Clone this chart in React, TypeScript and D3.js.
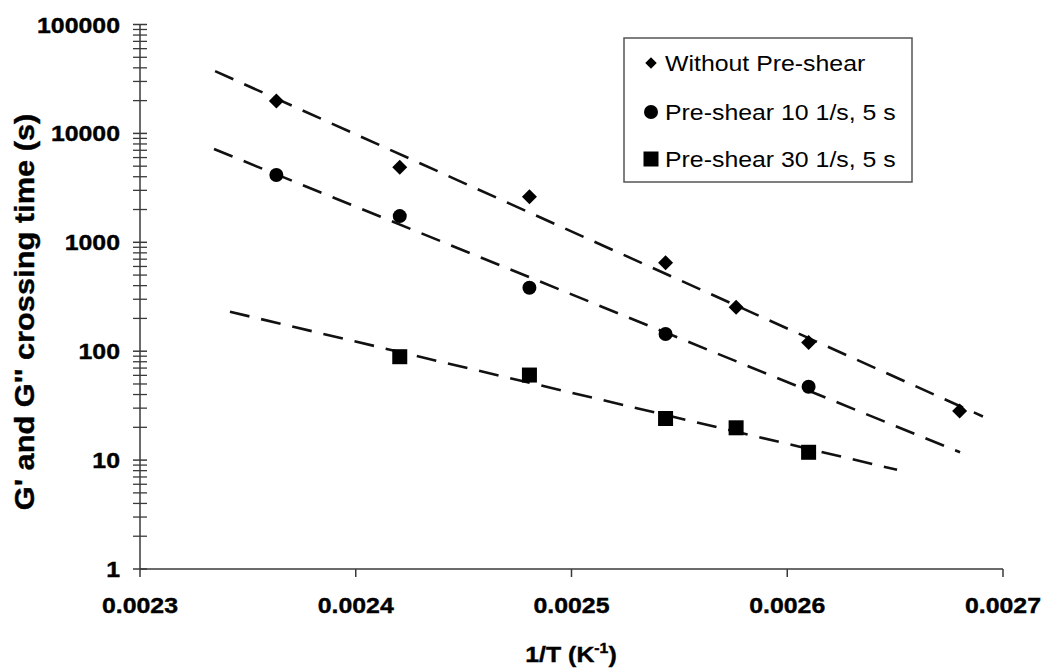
import React from "react";
import * as d3 from "d3";

// ---- data ----
const xTicks = [0.0023, 0.0024, 0.0025, 0.0026, 0.0027];
const xTickLabels = ["0.0023", "0.0024", "0.0025", "0.0026", "0.0027"];
const yTicks = [1, 10, 100, 1000, 10000, 100000];
const yTickLabels = ["1", "10", "100", "1000", "10000", "100000"];

const seriesNames = ["Without Pre-shear", "Pre-shear 10 1/s, 5 s", "Pre-shear 30 1/s, 5 s"];
const seriesSymbols = ["diamond", "circle", "square"];

const noPreshearX = [0.0023632, 0.0024204, 0.0024805, 0.0025436, 0.0025763, 0.0026099, 0.0026799];
const noPreshearY = [19800, 4900, 2620, 650, 253, 120, 28.2];

const preshear10X = [0.0023632, 0.0024204, 0.0024805, 0.0025436, 0.0026099];
const preshear10Y = [4150, 1740, 383, 144, 47.2];

const preshear30X = [0.0024204, 0.0024805, 0.0025436, 0.0025763, 0.0026099];
const preshear30Y = [89, 60.4, 24.1, 19.8, 11.8];

// trend line x-extents (as drawn in the reference)
const trendStart = [0.0023348, 0.0023343, 0.0023417];
const trendEnd = [0.0026907, 0.0026801, 0.0026509];

const seriesX = [noPreshearX, preshear10X, preshear30X];
const seriesY = [noPreshearY, preshear10Y, preshear30Y];

// ---- layout ----
const W = 1046;
const H = 671;
const X0 = 140;
const X1 = 1003;
const Y0 = 569;
const Y1 = 24.5;
const FONT = "'Liberation Sans', Arial, Helvetica, sans-serif";
const SX = 1.13;
const AXIS = "#3a3a3a";

const x = d3.scaleLinear().domain([0.0023, 0.0027]).range([X0, X1]);
const y = d3.scaleLog().domain([1, 100000]).range([Y0, Y1]);

function fit(xs: number[], ys: number[]) {
  const ly = ys.map((v) => Math.log10(v));
  const mx = d3.mean(xs) as number;
  const my = d3.mean(ly) as number;
  let sxy = 0;
  let sxx = 0;
  xs.forEach((xv, i) => {
    sxy += (xv - mx) * (ly[i] - my);
    sxx += (xv - mx) * (xv - mx);
  });
  const b = sxy / sxx;
  const a = my - b * mx;
  return (xv: number) => Math.pow(10, a + b * xv);
}

function Marker({ kind, cx, cy, s }: { kind: string; cx: number; cy: number; s: number }) {
  if (kind === "diamond") {
    const h = s / 2;
    return <path d={`M${cx},${cy - h}L${cx + h},${cy}L${cx},${cy + h}L${cx - h},${cy}Z`} fill="#000" />;
  }
  if (kind === "circle") return <circle cx={cx} cy={cy} r={s / 2} fill="#000" />;
  return <rect x={cx - s / 2} y={cy - s / 2} width={s} height={s} fill="#000" />;
}

function Txt({
  x: tx,
  y: ty,
  anchor = "start",
  size,
  weight = "normal",
  rotate = 0,
  sx = SX,
  children,
}: any) {
  const bold = weight === "bold";
  return (
    <text
      transform={`translate(${tx},${ty}) rotate(${rotate}) scale(${sx},1)`}
      textAnchor={anchor}
      fontSize={size}
      fontWeight={weight}
      fontFamily={FONT}
      fill="#000"
      stroke={bold ? "#000" : "none"}
      strokeWidth={bold ? 0.4 : 0}
    >
      {children}
    </text>
  );
}

export default function App() {
  const line = d3
    .line<[number, number]>()
    .x((d) => x(d[0]))
    .y((d) => y(d[1]));

  const minor: number[] = [];
  for (let e = 0; e < 5; e++) {
    for (let m = 2; m <= 9; m++) minor.push(m * Math.pow(10, e));
  }

  const markerSizes = [15, 14, 15];
  const legendRows = [63, 112, 159];
  const legendMarkerSizes = [11.5, 14, 15];

  return (
    <svg
      width={W}
      height={H}
      style={{ position: "absolute", left: 0, top: 0, background: "#fff" }}
    >
      <rect x={0} y={0} width={W} height={H} fill="#fff" />

      {/* trend lines */}
      {seriesX.map((xs, i) => {
        const f = fit(xs, seriesY[i]);
        const pts: [number, number][] = [
          [trendStart[i], f(trendStart[i])],
          [trendEnd[i], f(trendEnd[i])],
        ];
        return (
          <path
            key={"t" + i}
            d={line(pts) as string}
            fill="none"
            stroke="#111"
            strokeWidth={2.6}
            strokeDasharray="20,12"
          />
        );
      })}

      {/* axes */}
      <line x1={X0} x2={X0} y1={Y1} y2={Y0} stroke={AXIS} strokeWidth={1.5} />
      <line x1={X0} x2={X1} y1={Y0} y2={Y0} stroke={AXIS} strokeWidth={1.5} />
      {yTicks.map((t) => (
        <line key={"ym" + t} x1={X0 - 7} x2={X0 + 7} y1={y(t)} y2={y(t)} stroke={AXIS} strokeWidth={1.5} />
      ))}
      {minor.map((t) => (
        <line key={"yn" + t} x1={X0 - 7} x2={X0 + 7} y1={y(t)} y2={y(t)} stroke={AXIS} strokeWidth={1.3} />
      ))}
      {xTicks.map((t) => (
        <line key={"xt" + t} x1={x(t)} x2={x(t)} y1={Y0} y2={Y0 + 8} stroke={AXIS} strokeWidth={1.5} />
      ))}

      {/* tick labels */}
      {yTicks.map((t, i) => (
        <Txt key={"yl" + t} x={120} y={y(t) + 8} anchor="end" size={22} weight="bold">
          {yTickLabels[i]}
        </Txt>
      ))}
      {xTicks.map((t, i) => (
        <Txt key={"xl" + t} x={x(t)} y={613} anchor="middle" size={22} weight="bold">
          {xTickLabels[i]}
        </Txt>
      ))}

      {/* axis titles */}
      <Txt x={571} y={662} anchor="middle" size={22} weight="bold">
        1/T (K<tspan dy={-9} fontSize={14}>-1</tspan>
        <tspan dy={9}>)</tspan>
      </Txt>
      <Txt x={34} y={312} anchor="middle" size={28} weight="bold" rotate={-90} sx={1.1}>
        G' and G'' crossing time (s)
      </Txt>

      {/* markers */}
      {seriesX.map((xs, i) =>
        xs.map((xv, j) => (
          <Marker
            key={"m" + i + "-" + j}
            kind={seriesSymbols[i]}
            cx={x(xv)}
            cy={y(seriesY[i][j])}
            s={markerSizes[i]}
          />
        ))
      )}

      {/* legend */}
      <rect x={624} y={38} width={288} height={144} fill="#fff" stroke="#555" strokeWidth={1.5} />
      {seriesNames.map((n, i) => (
        <g key={"lg" + i}>
          <Marker kind={seriesSymbols[i]} cx={651} cy={legendRows[i]} s={legendMarkerSizes[i]} />
          <Txt x={665} y={legendRows[i] + 8} size={22}>
            {n}
          </Txt>
        </g>
      ))}
    </svg>
  );
}
